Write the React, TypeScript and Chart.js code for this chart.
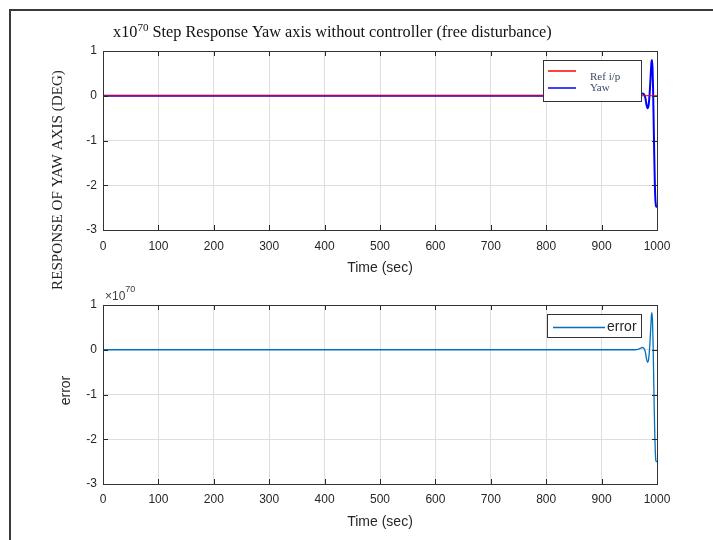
import React, { useEffect, useRef } from "react";
import { Chart, registerables } from "chart.js";
Chart.register(...registerables);

// ---- data ----
const xTickValues = [0, 100, 200, 300, 400, 500, 600, 700, 800, 900, 1000];
const yTickValues = [1, 0, -1, -2, -3];

const refTime = [0, 1000];
const refValue = [0, 0];

const yawTime = [0, 960, 966, 970, 973, 976, 979, 981, 983, 985, 987, 989, 990, 991, 992, 993, 994, 995, 996, 997, 998, 999, 1000];
const yawValue = [0, 0, 0.01, 0.03, 0.05, 0.04, -0.05, -0.2, -0.28, -0.2, 0.1, 0.55, 0.75, 0.8, 0.6, 0.1, -0.6, -1.3, -1.9, -2.3, -2.45, -2.48, -2.48];

const errorTime = [0, 960, 966, 970, 973, 976, 979, 981, 983, 985, 987, 989, 990, 991, 992, 993, 994, 995, 996, 997, 998, 999, 1000];
const errorValue = [0, 0, 0.01, 0.03, 0.05, 0.04, -0.05, -0.2, -0.28, -0.2, 0.1, 0.55, 0.78, 0.83, 0.6, 0.1, -0.6, -1.3, -1.9, -2.3, -2.48, -2.5, -2.5];

const titleMain = "x10";
const titleSup = "70";
const titleRest = " Step Response Yaw axis without controller (free disturbance)";
const yLabelTop = "RESPONSE OF YAW AXIS (DEG)";
const yLabelBottom = "error";
const xLabel = "Time (sec)";
const legendTop = ["Ref i/p", "Yaw"];
const legendBottom = ["error"];

const SANS = '"Liberation Sans", Arial, Helvetica, sans-serif';
const SERIF = '"Liberation Serif", "Times New Roman", Times, serif';
const W = 713;
const H1 = 300;
const H2 = 270;

function boxAndTicks(chart: any) {
  const { ctx, chartArea: a } = chart;
  const xs = chart.scales.x;
  const ys = chart.scales.y;
  ctx.save();
  ctx.strokeStyle = "#262626";
  ctx.lineWidth = 1;
  ctx.beginPath();
  for (const v of xTickValues) {
    const px = Math.round(xs.getPixelForValue(v)) + 0.5;
    ctx.moveTo(px, a.bottom);
    ctx.lineTo(px, a.bottom - 5);
    ctx.moveTo(px, a.top);
    ctx.lineTo(px, a.top + 5);
  }
  for (const v of yTickValues) {
    const py = Math.round(ys.getPixelForValue(v)) + 0.5;
    ctx.moveTo(a.left, py);
    ctx.lineTo(a.left + 5, py);
    ctx.moveTo(a.right, py);
    ctx.lineTo(a.right - 5, py);
  }
  ctx.stroke();
  ctx.strokeStyle = "#333333";
  ctx.strokeRect(Math.round(a.left) + 0.5, Math.round(a.top) + 0.5, Math.round(a.right - a.left), Math.round(a.bottom - a.top));
  ctx.restore();
}

function fitSize(ctx: any, text: string, family: string, target: number) {
  ctx.font = `100px ${family}`;
  return (100 * target) / ctx.measureText(text).width;
}

const topDecor = {
  id: "topDecor",
  afterDraw(chart: any) {
    boxAndTicks(chart);
    const { ctx, chartArea: a } = chart;
    ctx.save();
    // title with superscript
    const fullW = 439;
    ctx.font = `14px ${SERIF}`;
    const wMain = ctx.measureText(titleMain).width;
    const wRest = ctx.measureText(titleRest).width;
    ctx.font = `9.5px ${SERIF}`;
    const wSup = ctx.measureText(titleSup).width;
    const k = fullW / (wMain + wRest + wSup);
    const fs = 14 * k;
    let x = 113;
    ctx.fillStyle = "#111";
    ctx.textBaseline = "alphabetic";
    ctx.textAlign = "left";
    ctx.font = `${fs}px ${SERIF}`;
    ctx.fillText(titleMain, x, 37);
    x += wMain * k;
    ctx.font = `${9.5 * k}px ${SERIF}`;
    ctx.fillText(titleSup, x, 31);
    x += wSup * k;
    ctx.font = `${fs}px ${SERIF}`;
    ctx.fillText(titleRest, x, 37);

    // y label
    const ys = fitSize(ctx, yLabelTop, SERIF, 220);
    ctx.save();
    ctx.translate(58, 180);
    ctx.rotate(-Math.PI / 2);
    ctx.font = `${ys}px ${SERIF}`;
    ctx.fillStyle = "#222";
    ctx.textAlign = "center";
    ctx.textBaseline = "middle";
    ctx.fillText(yLabelTop, 0, 0);
    ctx.restore();

    // x label
    ctx.font = `14px ${SANS}`;
    ctx.fillStyle = "#262626";
    ctx.textAlign = "center";
    ctx.textBaseline = "middle";
    ctx.fillText(xLabel, (a.left + a.right) / 2, 268);

    // legend
    ctx.fillStyle = "#ffffff";
    ctx.fillRect(543, 60, 99, 42);
    ctx.strokeStyle = "#333";
    ctx.lineWidth = 1;
    ctx.strokeRect(543.5, 60.5, 98, 41);
    ctx.lineWidth = 1.5;
    ctx.strokeStyle = "#ff0000";
    ctx.beginPath();
    ctx.moveTo(548, 71);
    ctx.lineTo(576, 71);
    ctx.stroke();
    ctx.strokeStyle = "#0000ff";
    ctx.beginPath();
    ctx.moveTo(548, 88);
    ctx.lineTo(576, 88);
    ctx.stroke();
    ctx.font = `11px ${SERIF}`;
    ctx.fillStyle = "#3f4868";
    ctx.textAlign = "left";
    ctx.textBaseline = "middle";
    ctx.fillText(legendTop[0], 590, 77);
    ctx.fillText(legendTop[1], 590, 88);
    ctx.restore();
  },
};

const bottomDecor = {
  id: "bottomDecor",
  afterDraw(chart: any) {
    boxAndTicks(chart);
    const { ctx, chartArea: a } = chart;
    ctx.save();
    // exponent label
    ctx.fillStyle = "#404040";
    ctx.textAlign = "left";
    ctx.textBaseline = "middle";
    ctx.font = `12px ${SANS}`;
    ctx.fillText("\u00d710", 105, 27);
    const w = ctx.measureText("\u00d710").width;
    ctx.font = `9px ${SANS}`;
    ctx.fillText("70", 105 + w, 20);

    // y label
    ctx.save();
    ctx.translate(66, (a.top + a.bottom) / 2 - 4);
    ctx.rotate(-Math.PI / 2);
    ctx.font = `14px ${SANS}`;
    ctx.fillStyle = "#262626";
    ctx.textAlign = "center";
    ctx.textBaseline = "middle";
    ctx.fillText(yLabelBottom, 0, 0);
    ctx.restore();

    // x label
    ctx.font = `14px ${SANS}`;
    ctx.fillStyle = "#262626";
    ctx.textAlign = "center";
    ctx.textBaseline = "middle";
    ctx.fillText(xLabel, (a.left + a.right) / 2, 252);

    // legend
    ctx.fillStyle = "#ffffff";
    ctx.fillRect(547, 44, 95, 24);
    ctx.strokeStyle = "#333";
    ctx.lineWidth = 1;
    ctx.strokeRect(547.5, 44.5, 94, 23);
    ctx.lineWidth = 1.3;
    ctx.strokeStyle = "#0072bd";
    ctx.beginPath();
    ctx.moveTo(553, 57.5);
    ctx.lineTo(605, 57.5);
    ctx.stroke();
    ctx.font = `14px ${SANS}`;
    ctx.fillStyle = "#262626";
    ctx.textAlign = "left";
    ctx.textBaseline = "middle";
    ctx.fillText(legendBottom[0], 607, 57);
    ctx.restore();
  },
};

function makeOptions(H: number, padTop: number, plotBottom: number, tickPadX: number) {
  return {
    responsive: false,
    animation: false as const,
    devicePixelRatio: 1,
    layout: { padding: { left: 0, right: W - 657, top: padTop, bottom: 0 } },
    plugins: { legend: { display: false }, tooltip: { enabled: false }, title: { display: false } },
    elements: { point: { radius: 0 } },
    scales: {
      x: {
        type: "linear" as const,
        min: 0,
        max: 1000,
        afterFit(scale: any) {
          scale.height = H - plotBottom;
        },
        afterBuildTicks(scale: any) {
          scale.ticks = xTickValues.map((v) => ({ value: v }));
        },
        ticks: {
          padding: tickPadX,
          color: "#262626",
          font: { family: SANS, size: 12 },
          maxRotation: 0,
          autoSkip: false,
          callback: (v: any) => String(v),
        },
        grid: { color: "#dedede", lineWidth: 1, drawTicks: false },
        border: { display: false },
      },
      y: {
        type: "linear" as const,
        min: -3,
        max: 1,
        afterFit(scale: any) {
          scale.width = 103;
        },
        afterBuildTicks(scale: any) {
          scale.ticks = yTickValues.map((v) => ({ value: v }));
        },
        ticks: {
          padding: 6,
          color: "#262626",
          font: { family: SANS, size: 12 },
          callback: (v: any) => String(v),
        },
        grid: { color: "#dedede", lineWidth: 1, drawTicks: false },
        border: { display: false },
      },
    },
  };
}

function pts(t: number[], v: number[]) {
  return t.map((x, i) => ({ x, y: v[i] }));
}

export default function App() {
  const topRef = useRef<HTMLCanvasElement>(null);
  const botRef = useRef<HTMLCanvasElement>(null);

  useEffect(() => {
    const c1 = new Chart(topRef.current!, {
      type: "line",
      data: {
        datasets: [
          { label: legendTop[0], data: pts(refTime, refValue), borderColor: "#ff0000", borderWidth: 1, pointRadius: 0 },
          { label: legendTop[1], data: pts(yawTime, yawValue), borderColor: "#0000ff", borderWidth: 2, pointRadius: 0, cubicInterpolationMode: "monotone" },
        ],
      },
      options: makeOptions(H1, 51, 230, 9) as any,
      plugins: [topDecor],
    });
    const c2 = new Chart(botRef.current!, {
      type: "line",
      data: {
        datasets: [
          { label: legendBottom[0], data: pts(errorTime, errorValue), borderColor: "#0072bd", borderWidth: 1.3, pointRadius: 0, cubicInterpolationMode: "monotone" },
        ],
      },
      options: makeOptions(H2, 35, 214, 8) as any,
      plugins: [bottomDecor],
    });
    return () => {
      c1.destroy();
      c2.destroy();
    };
  }, []);

  return (
    <div style={{ position: "fixed", left: 0, top: 0, width: W, height: 540, background: "#fff", overflow: "hidden" }}>
      <canvas ref={topRef} width={W} height={H1} style={{ position: "absolute", left: 0, top: 0, width: W, height: H1 }} />
      <canvas ref={botRef} width={W} height={H2} style={{ position: "absolute", left: 0, top: 270, width: W, height: H2 }} />
      <div style={{ position: "absolute", left: 9, top: 9, width: W - 9, height: 2, background: "#3a3a3a" }} />
      <div style={{ position: "absolute", left: 9, top: 9, width: 2, height: 540, background: "#3a3a3a" }} />
    </div>
  );
}
